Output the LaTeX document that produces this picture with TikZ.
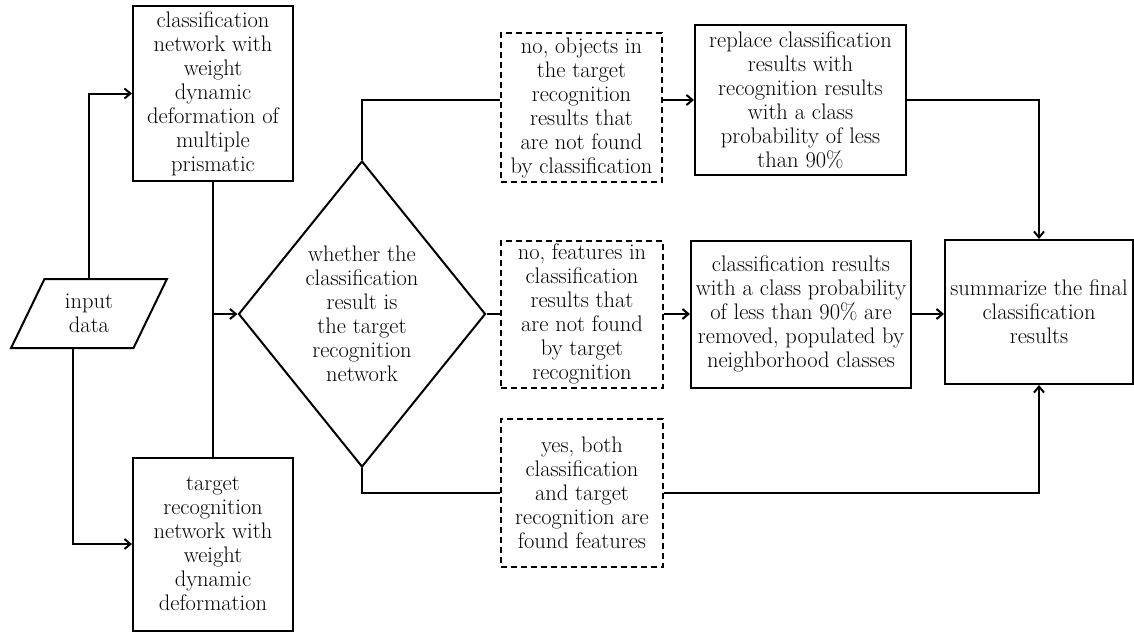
\documentclass[tikz,border=0pt]{standalone}
\usepackage{fontspec}
\usetikzlibrary{shapes.geometric,arrows.meta,calc}
\begin{document}
\begin{tikzpicture}[x=1pt,y=-1pt,
  every node/.style={font=\fontsize{22.5}{24}\selectfont, align=center, inner sep=0pt, text=black},
  box/.style={draw=black, line width=2pt, rectangle},
  dbox/.style={draw=black, line width=2pt, rectangle, dash pattern=on 6pt off 4pt},
  conn/.style={line width=2pt},
  arrline/.style={line width=2pt, -{Straight Barb[length=6pt,width=10pt,line width=2pt]}}]
\useasboundingbox (0,0) rectangle (1134,632);

\node[box, minimum width=160pt, minimum height=175pt] (cls) at (213,93.5)
  {classification\\network with\\weight\\dynamic\\deformation of\\multiple\\prismatic};
\node[box, minimum width=160pt, minimum height=173pt] (tgt) at (213,544)
  {target\\recognition\\network with\\weight\\dynamic\\deformation};
\node[draw=black, line width=2pt, trapezium, trapezium left angle=65, trapezium right angle=115,
  trapezium stretches=true, minimum width=157pt, minimum height=69pt] (in) at (89,313.5)
  {input\\data};
\node[draw=black, line width=2pt, diamond, aspect=0.8, minimum width=247pt, minimum height=306pt] (dia) at (362,314)
  {whether the\\classification\\result is\\the target\\recognition\\network};

\node[dbox, minimum width=161pt, minimum height=149pt] (d1) at (581.5,107.5)
  {no, objects in\\the target\\recognition\\results that\\are not found\\by classification};
\node[dbox, minimum width=162pt, minimum height=147pt] (d2) at (582,314)
  {no, features in\\classification\\results that\\are not found\\by target\\recognition};
\node[dbox, minimum width=162pt, minimum height=148pt] (d3) at (582,493)
  {yes, both\\classification\\and target\\recognition are\\found features};

\node[box, minimum width=211pt, minimum height=150pt] (rep) at (800.5,100)
  {replace classification\\results with\\recognition results\\with a class\\probability of less\\than 90\%};
\node[box, minimum width=220pt, minimum height=147pt] (rem) at (801,314)
  {classification results\\with a class probability\\of less than 90\% are\\removed, populated by\\neighborhood classes};
\node[box, minimum width=188pt, minimum height=144pt] (sum) at (1039,312)
  {summarize the final\\classification\\results};

\draw[arrline] (in.north) |- (cls.west);
\draw[arrline] ([xshift=-16pt]in.south) |- (tgt.west);
\draw[conn] (cls.south) -- (tgt.north);
\coordinate (j) at (cls.south |- dia.west);
\draw[arrline] (j) -- (dia.west);

\draw[conn] (dia.north) |- (d1.west |- rep.west);
\draw[arrline] (d1.east |- rep.west) -- (rep.west);
\draw[conn] (dia.east) -- (d2.west);
\draw[arrline] (d2.east) -- (rem.west);
\draw[arrline] (rem.east) -- (sum.west |- rem.east);
\draw[conn] (dia.south) |- (d3.west);
\draw[arrline] (d3.east) -| (sum.south);
\draw[arrline] (rep.east) -| (sum.north);
\end{tikzpicture}
\end{document}
